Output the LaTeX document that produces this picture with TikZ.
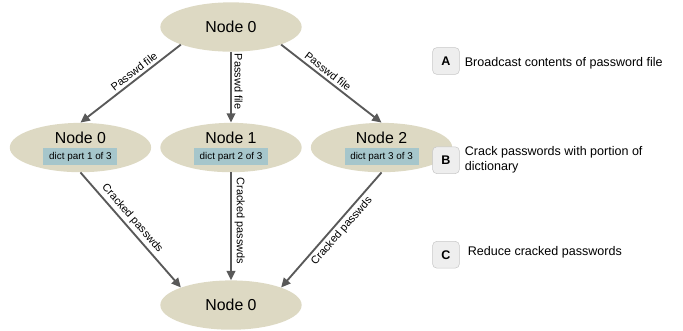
\documentclass[tikz,border=0pt]{standalone}
\usepackage{fontspec}
\setmainfont{Liberation Sans}
\usepackage{tikz}
\usetikzlibrary{
  arrows.meta,
  positioning,
  shapes.geometric
}
\definecolor{nodetan}{HTML}{DDD9C3}
\definecolor{dictteal}{HTML}{A6C6CB}
\definecolor{arrowgray}{HTML}{595959}
\definecolor{stepgray}{HTML}{EEEEEE}
\definecolor{stepline}{HTML}{C8C8C8}

\begin{document}
\begin{tikzpicture}[
  x=0.75pt, y=-0.75pt,
  ell/.style={ellipse, fill=nodetan, minimum width=106pt, minimum height=37pt,
              inner sep=0pt, font=\fontsize{11.9}{14}\selectfont},
  nodetxt/.style={inner sep=0pt, font=\fontsize{11.9}{14}\selectfont},
  dictbox/.style={fill=dictteal, minimum width=55.5pt, minimum height=12.75pt,
                  inner sep=0pt, font=\fontsize{7.4}{9}\selectfont},
  arr/.style={-{Triangle[length=7pt,width=6.5pt]}, line width=1.4pt, arrowgray},
  lbl/.style={font=\fontsize{8.2}{10}\selectfont, text=black, inner sep=2pt, sloped},
  stepbox/.style={draw=stepline, fill=stepgray, rounded corners=3pt,
                  minimum size=20pt, inner sep=0pt, font=\fontsize{9.4}{11}\bfseries},
  steptxt/.style={anchor=west, align=left, inner sep=1pt,
                  font=\fontsize{9.4}{11.25}\selectfont},
  node distance=6.5pt
]
  \useasboundingbox (0,0) rectangle (683,330);

  % Broadcast node
  \node[ell] (top) at (231,27) {Node 0};

  % Worker nodes
  \node[ell, below=53pt of top] (m1) {};
  \node[ell, left=of m1] (m0) {};
  \node[ell, right=of m1] (m2) {};
  \node[nodetxt] (t0) at ([yshift=7pt]m0.center) {Node 0};
  \node[nodetxt] (t1) at ([yshift=7pt]m1.center) {Node 1};
  \node[nodetxt] (t2) at ([yshift=7pt]m2.center) {Node 2};
  \node[dictbox] (d0) at ([yshift=-6.75pt]m0.center) {dict part 1 of 3};
  \node[dictbox] (d1) at ([yshift=-6.75pt]m1.center) {dict part 2 of 3};
  \node[dictbox] (d2) at ([yshift=-6.75pt]m2.center) {dict part 3 of 3};

  % Reduce node
  \node[ell, below=80.75pt of m1] (bot) {Node 0};

  % Arrows
  \draw[arr] (top.south west) -- node[lbl, above, pos=0.42] {Passwd file} (m0.north);
  \draw[arr] (top.south) -- node[lbl, above, pos=0.42] {Passwd file} (m1.north);
  \draw[arr] (top.south east) -- node[lbl, above, pos=0.42] {Passwd file} (m2.north);
  \draw[arr] (m0.south) -- node[lbl, above, pos=0.45] {Cracked passwds} (bot.north west);
  \draw[arr] (m1.south) -- node[lbl, above, pos=0.45] {Cracked passwds} (bot.north);
  \draw[arr] (m2.south) -- node[lbl, below, pos=0.46] {Cracked passwds} (bot.north east);

  % Steps
  \node[stepbox] (a) at (446,61) {A};
  \node[stepbox, below=54pt of a] (b) {B};
  \node[stepbox, below=50.5pt of b] (c) {C};
  \node[steptxt, right=2.75pt of a, yshift=-1.5pt] (ta) {Broadcast contents of password file};
  \node[steptxt, right=2.75pt of b] (tb) {Crack passwords with portion of\\dictionary};
  \node[steptxt, right=5pt of c, yshift=1.5pt] (tc) {Reduce cracked passwords};

\end{tikzpicture}
\end{document}
